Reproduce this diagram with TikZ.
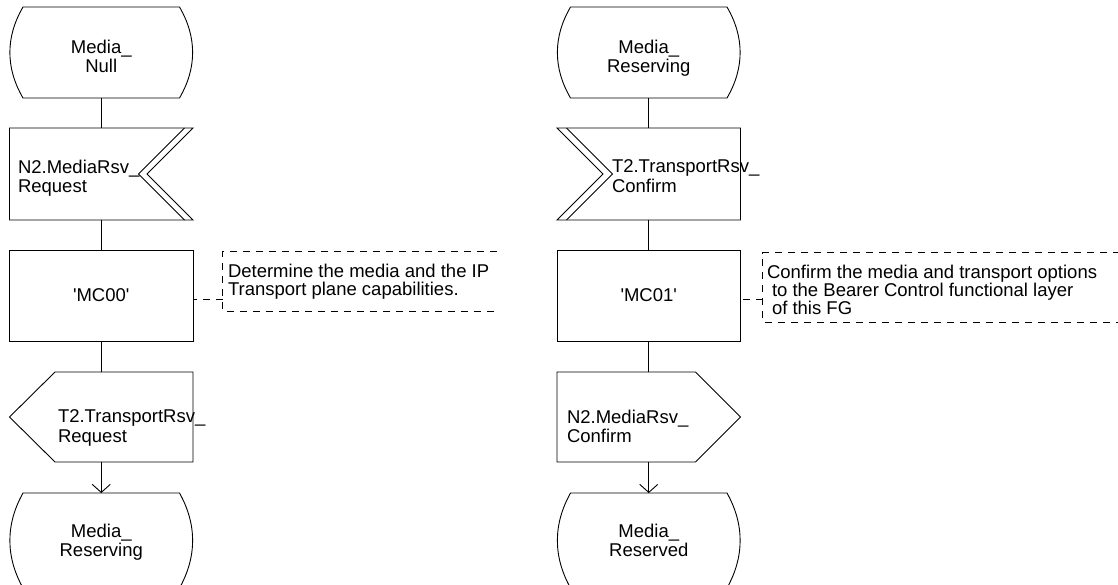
\documentclass[tikz,border=0pt]{standalone}
\usepackage{fontspec}
\setmainfont{Liberation Sans}
\usetikzlibrary{calc,arrows.meta}
\newcommand\sdlstate[1]{%
  \draw[ln] ($(#1.north west)+(13.5,0)$) -- ($(#1.north east)+(-13.5,0)$)
    .. controls ($(#1.north east)!0.33!(#1.south east)+(4,0)$) and ($(#1.north east)!0.67!(#1.south east)+(4,0)$) .. ($(#1.south east)+(-13.5,0)$)
    -- ($(#1.south west)+(13.5,0)$)
    .. controls ($(#1.north west)!0.67!(#1.south west)+(-4,0)$) and ($(#1.north west)!0.33!(#1.south west)+(-4,0)$) .. cycle;}
\newcommand\sdlinright[1]{%
  \draw[ln] (#1.north west) -- (#1.north east) -- ($(#1.east)+(-46,0)$) -- (#1.south east) -- (#1.south west) -- cycle;
  \draw[ln] ($(#1.north east)+(-8.5,0)$) -- ($(#1.east)+(-54.5,0)$) -- ($(#1.south east)+(-8.5,0)$);}
\newcommand\sdlinleft[1]{%
  \draw[ln] (#1.north west) -- ($(#1.west)+(46,0)$) -- (#1.south west) -- (#1.south east) -- (#1.north east) -- cycle;
  \draw[ln] ($(#1.north west)+(9.5,0)$) -- ($(#1.west)+(55.5,0)$) -- ($(#1.south west)+(9.5,0)$);}
\newcommand\sdloutleft[1]{%
  \draw[ln] ($(#1.north west)+(45.5,0)$) -- (#1.north east) -- (#1.south east) -- ($(#1.south west)+(45.5,0)$) -- (#1.west) -- cycle;}
\newcommand\sdloutright[1]{%
  \draw[ln] (#1.north west) -- ($(#1.north east)+(-45,0)$) -- (#1.east) -- ($(#1.south east)+(-45,0)$) -- (#1.south west) -- cycle;}
\begin{document}
\begin{tikzpicture}[x=1pt,y=-1pt,
  shp/.style={minimum width=183.5pt,minimum height=91pt,inner sep=0pt,outer sep=0pt},
  ln/.style={line width=0.9pt,black},
  txt/.style={font=\fontsize{18.5pt}{19.5pt}\selectfont,inner sep=0pt,outer sep=0pt},
  ctxt/.style={font=\fontsize{18.5pt}{18pt}\selectfont,inner sep=0pt,outer sep=0pt,align=left,anchor=north west},
  cmt/.style={line width=0.9pt,black,dash pattern=on 7pt off 6pt},
  arr/.style={ln,-{Straight Barb[length=8pt,width=18pt]}}]
\useasboundingbox (0,0) rectangle (1118,584);
% left column
\node[shp] (s1) at (101.25,52.5) {};
\node[shp,minimum height=92pt] (i1) at (101.25,174) {};
\node[shp,txt,draw,ln] (t1) at (101.25,295.5) {\textquotesingle MC00\textquotesingle};
\node[shp,minimum height=90pt] (o1) at (101.25,417) {};
\node[shp,minimum height=95pt] (s3) at (101.25,540.5) {};
% right column
\node[shp] (s2) at (648.75,52.5) {};
\node[shp,minimum height=92pt] (i2) at (648.75,174) {};
\node[shp,txt,draw,ln] (t2) at (648.75,295.5) {\textquotesingle MC01\textquotesingle};
\node[shp,minimum height=90pt] (o2) at (648.75,417) {};
\node[shp,minimum height=95pt] (s4) at (648.75,540.5) {};
% outlines
\sdlstate{s1}\sdlstate{s2}\sdlstate{s3}\sdlstate{s4}
\sdlinright{i1}\sdlinleft{i2}
\sdloutleft{o1}\sdloutright{o2}
% texts
\node[txt,align=center,anchor=north] (s1t) at (101.25,39.8) {Media\_\\Null};
\node[txt,align=center,anchor=north] (s2t) at (648.75,39.8) {Media\_\\Reserving};
\node[txt,align=left,anchor=north west] (i1t) at (18,159.8) {N2.MediaRsv\_\\Request};
\node[txt,align=left,anchor=north west] (i2t) at (612,159.8) {T2.TransportRsv\_\\Confirm};
\node[txt,align=left,anchor=north west] (o1t) at (58,409.8) {T2.TransportRsv\_\\Request};
\node[txt,align=left,anchor=north west] (o2t) at (567,409.8) {N2.MediaRsv\_\\Confirm};
\node[txt,align=center,anchor=north] (s3t) at (101.25,523.8) {Media\_\\Reserving};
\node[txt,align=center,anchor=north] (s4t) at (648.75,523.8) {Media\_\\Reserved};
% connectors
\draw[ln] (s1.south) -- (i1.north);
\draw[ln] (i1.south) -- (t1.north);
\draw[ln] (t1.south) -- (o1.north);
\draw[arr] (o1.south) -- (s3.north);
\draw[ln] (s2.south) -- (i2.north);
\draw[ln] (i2.south) -- (t2.north);
\draw[ln] (t2.south) -- (o2.north);
\draw[arr] (o2.south) -- (s4.north);
% comments
\node[minimum width=274pt,minimum height=59pt,inner sep=0pt] (c1) at (360,281.5) {};
\node[minimum width=357pt,minimum height=69pt,inner sep=0pt] (c2) at (941.5,287.5) {};
\draw[cmt] (c1.north east) -- (c1.north west) -- (c1.south west) -- (c1.south east);
\draw[cmt] (c2.north east) -- (c2.north west) -- (c2.south west) -- (c2.south east);
\draw[cmt] (c1.west |- 0,299) -- (t1.east |- 0,299);
\draw[cmt] (c2.west |- 0,299) -- (t2.east |- 0,299);
\node[ctxt] (c1t) at (228,263.8) {Determine the media and the IP\\Transport plane capabilities.};
\node[ctxt] (c2t) at (767,264.8) {Confirm the media and transport options\\\hspace*{5pt}to the Bearer Control functional layer\\\hspace*{5pt}of this FG};
\end{tikzpicture}
\end{document}
